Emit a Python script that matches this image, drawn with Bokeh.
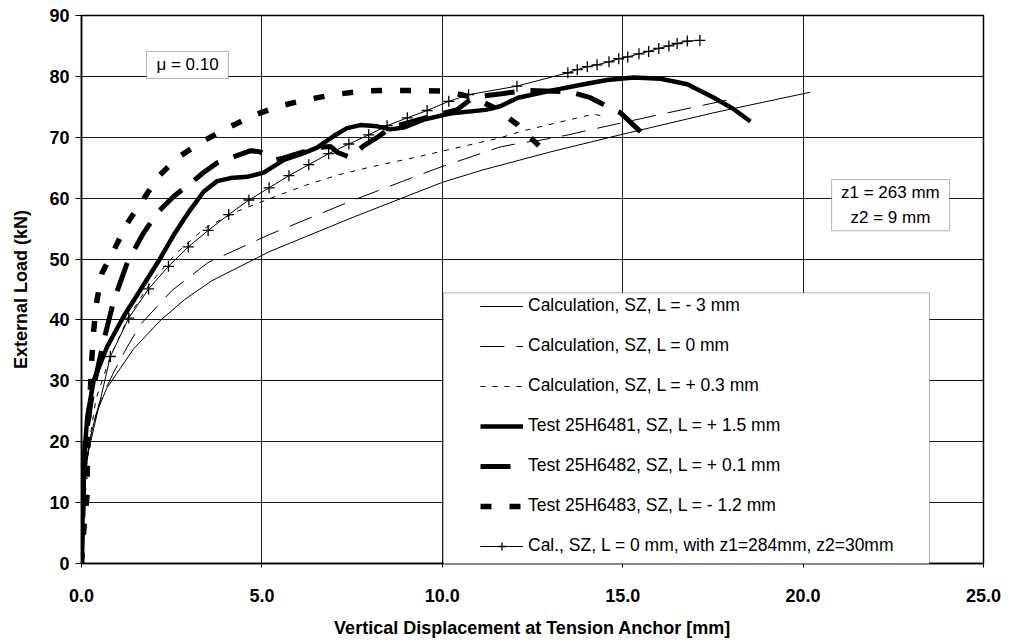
from bokeh.plotting import figure
from bokeh.models import FixedTicker, Legend, LegendItem, Label, BoxAnnotation
from bokeh.embed import file_html
from bokeh.resources import INLINE

FONT = "Liberation Sans"

# ---------------- data ----------------
x_ticks = [0, 5, 10, 15, 20, 25]
x_tick_labels = ["0.0", "5.0", "10.0", "15.0", "20.0", "25.0"]
y_ticks = [0, 10, 20, 30, 40, 50, 60, 70, 80, 90]

series_labels = [
    "Calculation, SZ, L = - 3 mm",
    "Calculation, SZ, L = 0 mm",
    "Calculation, SZ, L = + 0.3 mm",
    "Test 25H6481, SZ, L = + 1.5 mm",
    "Test 25H6482, SZ, L = + 0.1 mm",
    "Test 25H6483, SZ, L = - 1.2 mm",
    "Cal., SZ, L = 0 mm, with z1=284mm, z2=30mm",
]

calc_m3_x = [0, 0.12, 0.22, 0.4, 0.7, 1.45, 2.2, 2.85, 3.6, 5.2, 7.5, 10.0, 11.1, 13.0, 15.0, 17.5, 20.2]
calc_m3_y = [0, 15, 20, 24.5, 28.8, 35.3, 40.0, 43.3, 46.4, 51.2, 56.8, 62.6, 64.6, 67.6, 70.5, 74.0, 77.4]

calc_0_x = [0, 0.12, 0.22, 0.5, 0.9, 1.27, 1.64, 2.5, 3.5, 5.2, 7.5, 9.4, 10.0, 11.6, 12.2, 12.7, 13.5, 14.0, 16.0, 18.2]
calc_0_y = [0, 15, 20, 26.5, 31.5, 35.6, 39.3, 44.8, 49.4, 54.0, 59.6, 63.9, 65.2, 68.4, 69.1, 69.5, 70.4, 71.1, 73.7, 76.5]

calc_p03_x = [0, 0.12, 0.22, 0.4, 0.8, 1.3, 1.9, 2.6, 3.4, 4.3, 5.2, 6.2, 7.1, 8.0, 9.4, 10.2, 11.6, 12.2, 13.4, 14.2, 14.5]
calc_p03_y = [0, 15, 20, 27, 34, 40.5, 46, 50.8, 55.0, 57.8, 59.9, 62.1, 63.8, 65.1, 66.9, 68.0, 69.9, 71.0, 72.7, 73.8, 73.4]

test81_x = [0, 0.02, 0.05, 0.08, 0.16, 0.34, 0.71, 1.17, 1.64, 2.15, 2.55, 2.98, 3.39, 3.76, 4.13, 4.59,
            5.05, 5.61, 6.16, 6.53, 6.99, 7.36, 7.73, 8.2, 8.56, 8.93, 9.49, 10.21, 11.2, 11.61, 12.1,
            13.05, 14.0, 14.57, 15.31, 16.05, 16.79, 17.53, 18.08, 18.54]
test81_y = [0, 5, 12, 18, 24.1, 30.1, 35.6, 40.6, 45.0, 49.8, 53.9, 57.8, 61.1, 62.8, 63.3, 63.5,
            64.2, 66.3, 67.4, 68.3, 70.2, 71.5, 72.0, 71.8, 71.3, 71.6, 72.9, 73.9, 74.5, 75.1, 76.5,
            77.7, 78.8, 79.4, 79.8, 79.6, 78.7, 76.5, 74.6, 72.6]

test82_x = [0, 0.05, 0.1, 0.3, 0.62, 0.9, 1.27, 1.7, 2.1, 2.56, 2.97, 3.4, 3.76, 4.27, 4.69, 4.95, 5.15,
            5.4, 5.61, 6.1, 6.53, 6.9, 7.1, 7.45, 7.82, 8.23, 8.56, 9.0, 9.53, 10.4, 10.87, 11.7, 12.3,
            13.3, 13.69, 14.1, 14.47, 14.94, 15.3, 15.68]
test82_y = [0, 10, 20, 28, 36.7, 43.3, 49.4, 54.1, 57.6, 60.3, 62.2, 64.3, 65.8, 66.9, 67.8, 67.6, 66.9,
            66.3, 66.6, 67.5, 68.3, 68.5, 67.5, 66.7, 68.6, 70.1, 71.6, 72.3, 73.2, 74.5, 76.6, 77.2, 77.7,
            77.5, 77.2, 76.5, 75.4, 74.0, 72.0, 69.9]

test83_x = [0, 0.08, 0.16, 0.16, 0.2, 0.25, 0.29, 0.34, 0.43, 0.57, 0.9, 1.27, 1.68, 2.14, 2.65, 3.35,
            4.04, 4.73, 5.47, 6.26, 6.99, 7.82, 8.52, 9.3, 10.09, 10.8, 11.47, 12.08, 12.68]
test83_y = [0, 6.8, 11.5, 15.9, 24, 29, 34, 38.4, 43.3, 47.7, 51.5, 55.9, 59.5, 63.6, 66.6, 69.3,
            71.5, 73.5, 75.1, 76.2, 77.0, 77.6, 77.7, 77.7, 77.6, 76.6, 74.8, 72.1, 68.6]

calz_x = [0, 0.02, 0.8, 1.31, 1.86, 2.41, 2.96, 3.51, 4.08, 4.64, 5.2, 5.75, 6.3, 6.85, 7.41, 7.96,
          8.47, 9.03, 9.58, 10.18, 10.73, 12.07, 13.48, 13.74, 14.02, 14.29, 14.62, 14.89, 15.14,
          15.45, 15.72, 16.0, 16.28, 16.51, 16.79, 17.14]
calz_y = [0, 14, 34.0, 40.3, 45.1, 48.8, 52.0, 54.7, 57.3, 59.7, 61.7, 63.7, 65.5, 67.3, 68.9, 70.4,
          71.9, 73.2, 74.4, 75.9, 77.0, 78.4, 80.6, 81.1, 81.6, 81.9, 82.4, 82.9, 83.2,
          83.7, 84.1, 84.6, 85.0, 85.4, 85.8, 85.9]

# ---------------- figure ----------------
p = figure(width=1010, height=643, x_range=(0, 25), y_range=(0, 90),
           output_backend="svg", toolbar_location=None,
           min_border_left=81, min_border_right=27, min_border_top=15, min_border_bottom=80)

p.background_fill_color = "white"
p.outline_line_color = "black"
p.outline_line_width = 1.5

for ax in (p.xaxis[0], p.yaxis[0]):
    ax.axis_line_color = "black"
    ax.axis_line_width = 1.5
    ax.major_tick_line_color = "black"
    ax.major_tick_in = 0
    ax.minor_tick_in = 0
    ax.minor_tick_out = 0
    ax.major_label_text_font = FONT
    ax.major_label_text_font_style = "bold"
    ax.major_label_text_font_size = "18px"
    ax.major_label_text_color = "black"
    ax.axis_label_text_font = FONT
    ax.axis_label_text_font_style = "bold"
    ax.axis_label_text_font_size = "18px"
    ax.axis_label_text_color = "black"

p.xaxis.ticker = FixedTicker(ticks=x_ticks)
p.xaxis.major_label_overrides = {t: s for t, s in zip(x_ticks, x_tick_labels)}
p.xaxis.major_tick_out = 4
p.xaxis.major_label_standoff = 21
p.xaxis.axis_label = "Vertical Displacement at Tension Anchor [mm]"
p.xaxis.axis_label_standoff = 13

p.yaxis.ticker = FixedTicker(ticks=y_ticks)
p.yaxis.major_tick_out = 6
p.yaxis.major_label_standoff = 6
p.yaxis.axis_label = "External Load (kN)"
p.yaxis.axis_label_standoff = 15

p.xgrid.ticker = FixedTicker(ticks=x_ticks)
p.ygrid.ticker = FixedTicker(ticks=y_ticks)
for g in (p.xgrid[0], p.ygrid[0]):
    g.grid_line_color = "black"
    g.grid_line_width = 1
    g.grid_line_alpha = 0.9

# ---------------- series ----------------
r1 = p.line(calc_m3_x, calc_m3_y, line_color="black", line_width=1)
r2 = p.line(calc_0_x, calc_0_y, line_color="black", line_width=1, line_dash="24 12")
r3 = p.line(calc_p03_x, calc_p03_y, line_color="black", line_width=1, line_dash="5 7")
r4 = p.line(test81_x, test81_y, line_color="black", line_width=4.5, line_join="round")
r5 = p.line(test82_x, test82_y, line_color="black", line_width=5, line_dash="30 16")
r6 = p.line(test83_x, test83_y, line_color="black", line_width=5.5, line_dash="11 18")
r7 = p.line(calz_x, calz_y, line_color="black", line_width=1)
r7m = p.scatter(calz_x, calz_y, marker="cross", size=11, line_color="black", line_width=1.3)

# ---------------- boxes & texts ----------------
legend_box = BoxAnnotation(left=10.03, right=23.5, bottom=-0.5, top=44.45,
                           fill_color="white", fill_alpha=1, line_color="black", line_width=1)
mu_box = BoxAnnotation(left=1.80, right=4.07, bottom=79.65, top=84.1,
                       fill_color="white", fill_alpha=1, line_color="black", line_width=1)
z_box = BoxAnnotation(left=20.79, right=24.06, bottom=54.65, top=63.04,
                      fill_color="white", fill_alpha=1, line_color="black", line_width=1)
for b in (legend_box, mu_box, z_box):
    p.add_layout(b)

def txt(x, y, s, size="17px"):
    lab = Label(x=x, y=y, text=s, text_align="center", text_baseline="middle",
                text_font=FONT, text_font_size=size, text_color="black")
    p.add_layout(lab)

txt(2.94, 81.9, "μ = 0.10")
txt(22.42, 60.9, "z1 = 263 mm")
txt(22.42, 56.8, "z2 = 9 mm")

items = [
    LegendItem(label=series_labels[0], renderers=[r1]),
    LegendItem(label=series_labels[1], renderers=[r2]),
    LegendItem(label=series_labels[2], renderers=[r3]),
    LegendItem(label=series_labels[3], renderers=[r4]),
    LegendItem(label=series_labels[4], renderers=[r5]),
    LegendItem(label=series_labels[5], renderers=[r6]),
    LegendItem(label=series_labels[6], renderers=[r7, r7m]),
]
legend = Legend(items=items, location=(391, -1), orientation="vertical",
                border_line_alpha=0, background_fill_alpha=0,
                glyph_width=43, glyph_height=20, label_height=20,
                label_standoff=5, spacing=19, padding=8, margin=0,
                label_text_font=FONT, label_text_font_size="17.5px",
                label_text_color="black")
p.add_layout(legend)

open("out.html", "w").write(file_html(p, INLINE))
